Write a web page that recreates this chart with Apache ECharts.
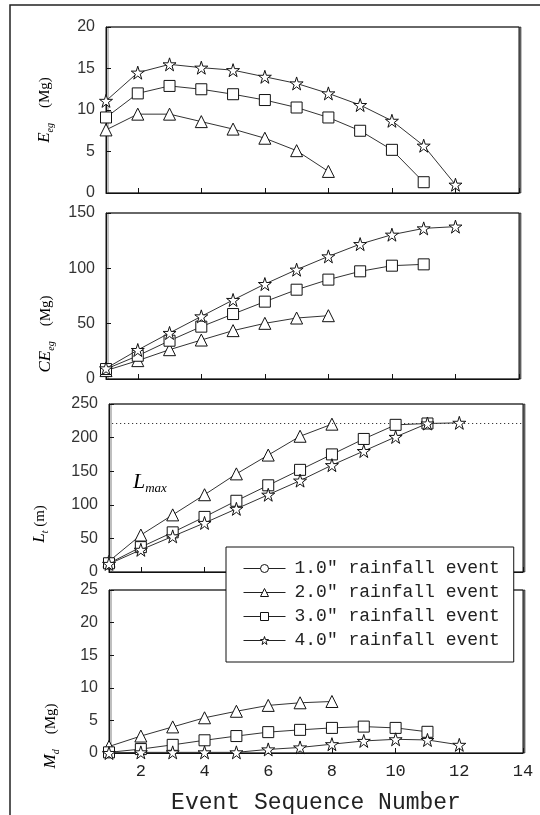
<!DOCTYPE html>
<html>
<head>
<meta charset="utf-8">
<script src="https://cdn.jsdelivr.net/npm/echarts@6/dist/echarts.min.js"></script>
<style>
  html, body { margin: 0; padding: 0; background: #fff; }
  #chart { width: 540px; height: 815px; }
</style>
</head>
<body>
<div id="chart"></div>
<script>
// event sequence numbers
const events = [1, 2, 3, 4, 5, 6, 7, 8, 9, 10, 11, 12]
const rainNames = ['1.0" rainfall event', '2.0" rainfall event', '3.0" rainfall event', '4.0" rainfall event']

// E_eg (Mg)
const eeg2 = [7.6, 9.5, 9.5, 8.6, 7.7, 6.6, 5.1, 2.6]
const eeg3 = [9.1, 12.0, 12.9, 12.5, 11.9, 11.2, 10.3, 9.1, 7.5, 5.2, 1.3]
const eeg4 = [11.1, 14.5, 15.5, 15.1, 14.8, 14.0, 13.2, 12.0, 10.6, 8.7, 5.7, 1.0]

// CE_eg (Mg)
const ceeg2 = [7.6, 16.6, 26.5, 35.2, 43.7, 50.3, 55.1, 57.2]
const ceeg3 = [9.0, 21.0, 34.6, 47.3, 58.7, 69.9, 80.7, 89.8, 97.3, 102.4, 103.6]
const ceeg4 = [9.6, 26.2, 41.6, 56.6, 71.4, 85.8, 98.8, 110.8, 121.9, 130.4, 136.1, 137.7]

// L_t (m)
const lt1 = [11]
const lt2 = [16, 55, 85, 115, 146, 174, 202, 220]
const lt3 = [13, 37, 59, 82, 106, 129, 152, 175, 198, 219, 221]
const lt4 = [12, 33, 53, 73, 94, 115, 136, 159, 180, 201, 221, 222]
const lmax = 222
const lmaxStart = 1.1

// M_d (Mg)
const md1 = [0]
const md2 = [1.0, 2.6, 4.0, 5.4, 6.4, 7.3, 7.7, 7.9]
const md3 = [0.1, 0.6, 1.25, 1.95, 2.6, 3.2, 3.55, 3.85, 4.05, 3.85, 3.25]
const md4 = [0, 0.1, 0.1, 0.1, 0.1, 0.55, 0.85, 1.35, 1.85, 2.1, 2.0, 1.25]

// axis ticks
const xTicks = [2, 4, 6, 8, 10, 12, 14]
const yMax = [20, 150, 250, 25]
const yStep = [5, 50, 50, 5]

const star = 'path://M50 0L61.17 34.63L97.55 34.55L68.07 55.87L79.39 90.45L50 69L20.61 90.45L31.93 55.87L2.45 34.55L38.83 34.63Z'
const symbols = ['circle', 'triangle', 'rect', star]
const symbolSizes = [9, 12, 11, 13]

const chart = echarts.init(document.getElementById('chart'))

const grids = [
  { left: 106, top: 27, width: 413, height: 166 },
  { left: 106, top: 213, width: 413, height: 166 },
  { left: 109, top: 404, width: 414, height: 168 },
  { left: 109, top: 590, width: 414, height: 165 },
].map(g => Object.assign(g, {
  show: true,
  backgroundColor: '#fff',
  borderColor: '#111',
  borderWidth: 1,
  shadowColor: 'rgba(0,0,0,0.5)',
  shadowOffsetX: 2,
  shadowOffsetY: 0,
  shadowBlur: 0,
}))

const xAxes = grids.map((g, i) => ({
  type: 'value',
  gridIndex: i,
  min: 1,
  max: 14,
  axisLine: { show: true, onZero: false, lineStyle: { color: '#111' } },
  axisTick: { show: true, inside: true, length: 5, customValues: xTicks, lineStyle: { color: '#111' } },
  axisLabel: {
    show: i === 3,
    customValues: xTicks,
    margin: 10,
    color: '#222',
    fontFamily: 'Liberation Mono',
    fontSize: 17,
  },
  splitLine: { show: false },
  name: i === 3 ? 'Event Sequence Number' : '',
  nameLocation: 'middle',
  nameGap: 38,
  nameTextStyle: { fontFamily: 'Liberation Mono', fontSize: 23, color: '#222' },
}))

const yAxes = grids.map((g, i) => ({
  type: 'value',
  gridIndex: i,
  min: 0,
  max: yMax[i],
  interval: yStep[i],
  axisLine: { show: true, lineStyle: { color: '#111' } },
  axisTick: { show: true, inside: true, length: 5, lineStyle: { color: '#111' } },
  axisLabel: { margin: 11, color: '#333', fontFamily: 'Liberation Sans', fontSize: 16 },
  splitLine: { show: false },
}))

function pts(arr) {
  return arr.map((v, i) => [events[i], v])
}

function mkSeries(k, panel, arr, extra) {
  return Object.assign({
    name: rainNames[k],
    type: 'line',
    xAxisIndex: panel,
    yAxisIndex: panel,
    data: pts(arr),
    symbol: symbols[k],
    symbolSize: symbolSizes[k],
    showAllSymbol: true,
    lineStyle: { color: '#333', width: 1 },
    itemStyle: { color: '#fff', borderColor: '#111', borderWidth: 1 },
    emphasis: { disabled: true },
    z: 3 + k,
  }, extra || {})
}

const series = [
  mkSeries(1, 0, eeg2), mkSeries(2, 0, eeg3), mkSeries(3, 0, eeg4),
  mkSeries(1, 1, ceeg2), mkSeries(2, 1, ceeg3), mkSeries(3, 1, ceeg4),
  mkSeries(0, 2, lt1),
  mkSeries(1, 2, lt2, {
    markLine: {
      silent: true,
      symbol: 'none',
      label: { show: false },
      lineStyle: { type: [1, 3], color: '#111', width: 1 },
      data: [[{ coord: [lmaxStart, lmax] }, { coord: [14, lmax] }]],
    },
  }),
  mkSeries(2, 2, lt3), mkSeries(3, 2, lt4),
  mkSeries(0, 3, md1), mkSeries(1, 3, md2), mkSeries(2, 3, md3), mkSeries(3, 3, md4),
]

function yName(x, y, text, rich) {
  return {
    type: 'text',
    x: x,
    y: y,
    rotation: Math.PI / 2,
    z: 10,
    style: {
      text: text,
      align: 'center',
      verticalAlign: 'middle',
      rich: rich,
    },
  }
}
const nameRich = {
  i: { fontFamily: 'Liberation Serif', fontStyle: 'italic', fontSize: 17, color: '#222', verticalAlign: 'middle' },
  s: { fontFamily: 'Liberation Serif', fontStyle: 'italic', fontSize: 10, color: '#222', padding: [10, 0, 0, 0] },
  n: { fontFamily: 'Liberation Serif', fontSize: 15, color: '#222' },
}

const option = {
  animation: false,
  backgroundColor: '#fff',
  grid: grids,
  xAxis: xAxes,
  yAxis: yAxes,
  legend: {
    data: rainNames,
    orient: 'vertical',
    left: 226,
    top: 547,
    width: 298,
    height: 119,
    padding: [12, 14, 12, 17],
    itemGap: 5,
    itemWidth: 42,
    itemHeight: 10,
    backgroundColor: '#fff',
    borderColor: '#111',
    borderWidth: 1,
    selectedMode: false,
    z: 20,
    itemStyle: { color: '#fff', borderColor: '#111', borderWidth: 1 },
    lineStyle: { color: '#222', width: 1 },
    textStyle: { fontFamily: 'Liberation Mono', fontSize: 18, color: '#222', lineHeight: 19, padding: [0, 0, 0, 4] },
  },
  graphic: [
    {
      type: 'rect',
      shape: { x: 10, y: 5, width: 540, height: 820 },
      style: { fill: 'none', stroke: '#222', lineWidth: 1.5 },
      z: -1,
      silent: true,
    },
    yName(45, 110, '{i|E}{s|eg}{n|    (Mg)}', nameRich),
    yName(46, 334, '{i|CE}{s|eg}{n|    (Mg)}', nameRich),
    yName(40, 524, '{i|L}{s|t}{n| (m)}', nameRich),
    yName(51, 736, '{i|M}{s|d}{n|    (Mg)}', nameRich),
    {
      type: 'text',
      x: 133,
      y: 482,
      z: 10,
      style: {
        text: '{i|L}{s|max}',
        verticalAlign: 'middle',
        rich: {
          i: { fontFamily: 'Liberation Serif', fontStyle: 'italic', fontSize: 22, color: '#222' },
          s: { fontFamily: 'Liberation Serif', fontStyle: 'italic', fontSize: 13, color: '#222', padding: [14, 0, 0, 0] },
        },
      },
    },
  ],
  series: series,
}

chart.setOption(option)
</script>
</body>
</html>
